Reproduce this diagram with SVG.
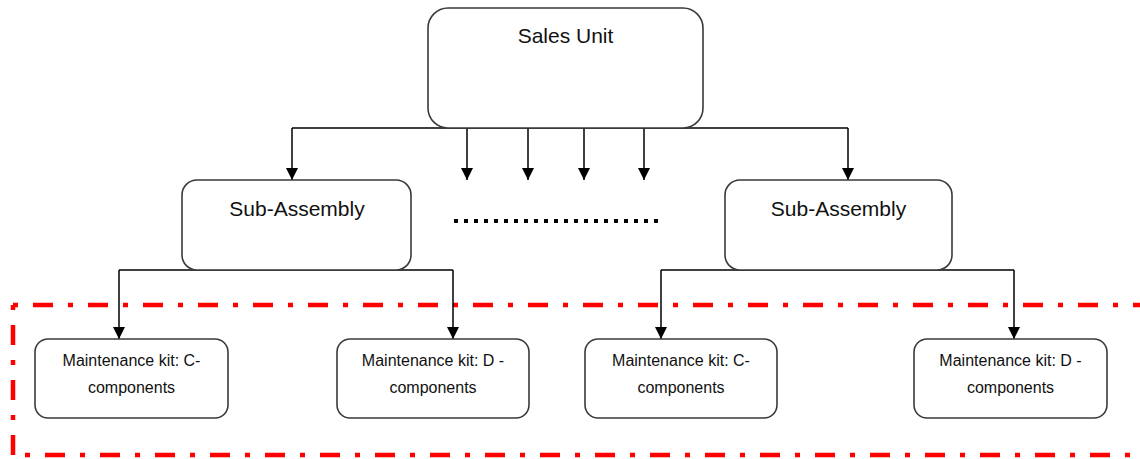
<svg xmlns="http://www.w3.org/2000/svg" width="1140" height="459" viewBox="0 0 1140 459">
<style>
.box{fill:#fff;stroke:#3a3a3a;stroke-width:1.6}
.t1{font-family:"Liberation Sans",Arial,sans-serif;font-size:21px;fill:#111;text-anchor:middle}
.t2{font-family:"Liberation Sans",Arial,sans-serif;font-size:16px;fill:#111;text-anchor:middle}
.con{fill:none;stroke:#000;stroke-width:1.5}
.red{fill:none;stroke:#ff0000;stroke-width:4.5;stroke-dasharray:5 15 20 15}
</style>
<defs>
<marker id="ah" viewBox="0 0 12 12" refX="12" refY="6" markerWidth="12" markerHeight="12" markerUnits="userSpaceOnUse" orient="auto">
<path d="M0,0 L12,6 L0,12 Z" fill="#000"/>
</marker>
</defs>
<rect width="1140" height="459" fill="#fff"/>
<g id="boundary">
<line class="red" x1="13" y1="305" x2="1145" y2="305"/>
<line class="red" x1="13" y1="305" x2="13" y2="455"/>
<line class="red" x1="13" y1="455" x2="1145" y2="455" stroke-dashoffset="43"/>
</g>
<g id="connectors">
<line class="con" x1="292" y1="128" x2="848" y2="128"/>
<line class="con" x1="292" y1="128" x2="292" y2="180" marker-end="url(#ah)"/>
<line class="con" x1="848" y1="128" x2="848" y2="180" marker-end="url(#ah)"/>
<line class="con" x1="467" y1="128" x2="467" y2="180" marker-end="url(#ah)"/>
<line class="con" x1="528" y1="128" x2="528" y2="180" marker-end="url(#ah)"/>
<line class="con" x1="584" y1="128" x2="584" y2="180" marker-end="url(#ah)"/>
<line class="con" x1="644" y1="128" x2="644" y2="180" marker-end="url(#ah)"/>
<line class="con" x1="119" y1="270" x2="453" y2="270"/>
<line class="con" x1="119" y1="270" x2="119" y2="339" marker-end="url(#ah)"/>
<line class="con" x1="453" y1="270" x2="453" y2="339" marker-end="url(#ah)"/>
<line class="con" x1="661" y1="270" x2="1014" y2="270"/>
<line class="con" x1="661" y1="270" x2="661" y2="339" marker-end="url(#ah)"/>
<line class="con" x1="1014" y1="270" x2="1014" y2="339" marker-end="url(#ah)"/>
<line x1="454" y1="221" x2="658" y2="221" stroke="#000" stroke-width="4" stroke-dasharray="4 6"/>
</g>
<g id="sales-unit">
<rect class="box" x="428" y="8" width="275" height="120" rx="20"/>
<text class="t1" x="565.5" y="43">Sales Unit</text>
</g>
<g id="sub-assembly-left">
<rect class="box" x="182" y="180" width="229" height="90" rx="15"/>
<text class="t1" x="297" y="216">Sub-Assembly</text>
</g>
<g id="sub-assembly-right">
<rect class="box" x="725" y="180" width="227" height="90" rx="15"/>
<text class="t1" x="838.5" y="216">Sub-Assembly</text>
</g>
<g id="kit-c-left">
<rect class="box" x="35" y="339" width="193" height="79" rx="13"/>
<text class="t2" x="131.5" y="366">Maintenance kit: C-</text>
<text class="t2" x="131.5" y="393">components</text>
</g>
<g id="kit-d-left">
<rect class="box" x="337" y="339" width="192" height="79" rx="13"/>
<text class="t2" x="433" y="366">Maintenance kit: D -</text>
<text class="t2" x="433" y="393">components</text>
</g>
<g id="kit-c-right">
<rect class="box" x="585" y="339" width="192" height="79" rx="13"/>
<text class="t2" x="681" y="366">Maintenance kit: C-</text>
<text class="t2" x="681" y="393">components</text>
</g>
<g id="kit-d-right">
<rect class="box" x="914" y="339" width="193" height="79" rx="13"/>
<text class="t2" x="1010.5" y="366">Maintenance kit: D -</text>
<text class="t2" x="1010.5" y="393">components</text>
</g>
</svg>
